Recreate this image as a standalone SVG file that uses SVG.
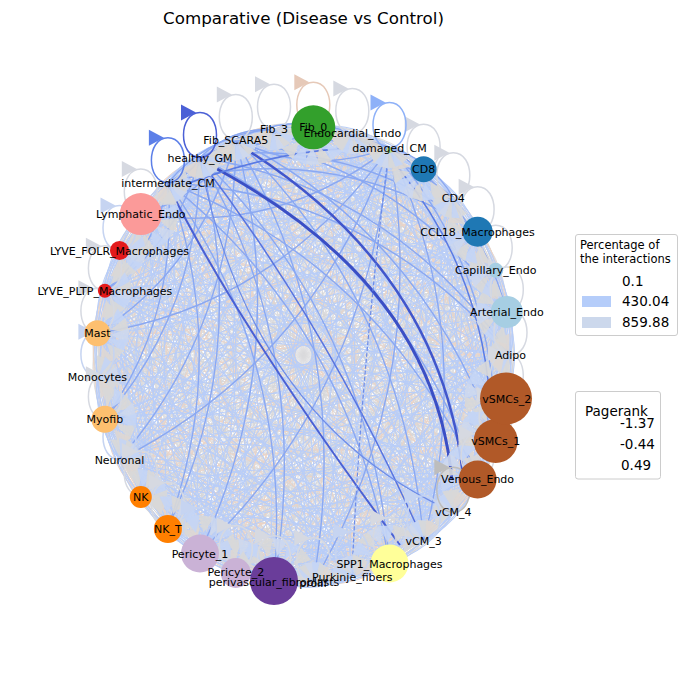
<svg xmlns="http://www.w3.org/2000/svg" width="687" height="690" viewBox="0 0 687 690">
<style>
text{font-family:"DejaVu Sans","Liberation Sans",sans-serif;fill:#000}
.lb{font-size:11px;text-anchor:middle}
.e{fill:none}
.lg{stroke:#d6d9e1;fill:#d6d9e1}
.lb2{stroke:#c6d4f1;fill:#c6d4f1}
.ldk{stroke:#4b60d6;fill:#4b60d6}
.lbl{stroke:#5c7fe8;fill:#5c7fe8}
.llb{stroke:#8eb1f8;fill:#8eb1f8}
.lpe{stroke:#e6c9b8;fill:#e6c9b8}
.lgd{stroke:#bdbdbd;fill:#bdbdbd}
.lt{font-size:11.5px}
.le{font-size:13.5px}
</style>
<defs>
<path id="P" class="e" d="M1 0Q.890-.172 .928-.372M1 0Q.627-.323 .580-.815M1 0Q.324-.309 .048-.999M1 0Q.077-.133-.5-.866M1 0Q-.036.149-.889-.458M1 0Q.021.447-.995.095M1 0Q.231.666-.786.618M1 0Q.525.738-.327.945M1 0Q.812.639 .236.972M1 0Q1 .4 .724.69M1 0Q1.029.098 .982.189"/>
<path id="Q" class="e" d="M1 0Q.813-.239 .841-.541M1 0Q.526-.338 .415-.91M1 0Q.231-.266-.142-.99M1 0Q.021-.047-.655-.756M1 0Q-.036.251-.959-.282M1 0Q.077.533-.959.282M1 0Q.324.709-.655.756M1 0Q.627.723-.142.99M1 0Q.89.572 .415.91M1 0Q1.029.302 .841.541"/>
<path id="R" class="e" d="M1 0Q.953-.091 .982-.189M1 0Q.724-.29 .724-.69M1 0Q.424-.333 .236-.972M1 0Q.147-.207-.327-.945M1 0Q-.017.048-.786-.618M1 0Q-.017.352-.995-.095M1 0Q.147.607-.889.458M1 0Q.423.733-.5.866M1 0Q.724.69 .048.999M1 0Q.953.491 .58.815M1 0Q1.039.2 .928.372"/>
<path id="S" class="e" d="M1 0Q.867-.254 .841-.541M1 0Q.709-.365 .580-.815M1 0Q.521-.409 .236-.972M1 0Q.330-.381-.142-.990M1 0Q.163-.283-.5-.866M1 0Q.045-.130-.786-.618M1 0Q-.008.055-.959-.282M1 0Q.012.247-.995.095M1 0Q.101.418-.889.458M1 0Q.248.543-.655.756M1 0Q.431.605-.327.945M1 0Q.624.595 .048.999M1 0Q.799.513 .415.910M1 0Q.931.373 .724.690M1 0Q1.001.193 .928.372"/>
<path id="T" class="e" d="M1 0Q-.002.048-.995-.095M1 0Q-.007.152-.995-.095M1 0L-.959-.282"/>
<polygon id="t" points="0,0 17,-8 17,8"/>
<g id="f3" fill-opacity="0.9">
<use href="#t" transform="rotate(-65) translate(3)" fill="#d8d8d8"/>
<use href="#t" transform="rotate(-42) translate(3)" fill="#c4d5f5"/>
<use href="#t" transform="rotate(-20) translate(3)" fill="#d8d8d8"/>
<use href="#t" transform="rotate(0) translate(3)" fill="#cdd8ee"/>
<use href="#t" transform="rotate(20) translate(3)" fill="#c4d5f5"/>
<use href="#t" transform="rotate(42) translate(3)" fill="#d8d8d8"/>
<use href="#t" transform="rotate(65) translate(3)" fill="#ded7d3"/>
</g>
<g id="f9" fill-opacity="0.9">
<use href="#t" transform="rotate(-65) translate(9)" fill="#d8d8d8"/>
<use href="#t" transform="rotate(-42) translate(9)" fill="#c4d5f5"/>
<use href="#t" transform="rotate(-20) translate(9)" fill="#d8d8d8"/>
<use href="#t" transform="rotate(0) translate(9)" fill="#cdd8ee"/>
<use href="#t" transform="rotate(20) translate(9)" fill="#c4d5f5"/>
<use href="#t" transform="rotate(42) translate(9)" fill="#d8d8d8"/>
<use href="#t" transform="rotate(65) translate(9)" fill="#ded7d3"/>
</g>
<g id="f14" fill-opacity="0.9">
<use href="#t" transform="rotate(-65) translate(14)" fill="#d8d8d8"/>
<use href="#t" transform="rotate(-42) translate(14)" fill="#c4d5f5"/>
<use href="#t" transform="rotate(-20) translate(14)" fill="#d8d8d8"/>
<use href="#t" transform="rotate(0) translate(14)" fill="#cdd8ee"/>
<use href="#t" transform="rotate(20) translate(14)" fill="#c4d5f5"/>
<use href="#t" transform="rotate(42) translate(14)" fill="#d8d8d8"/>
<use href="#t" transform="rotate(65) translate(14)" fill="#ded7d3"/>
</g>
<g id="f20" fill-opacity="0.9">
<use href="#t" transform="rotate(-65) translate(20)" fill="#d8d8d8"/>
<use href="#t" transform="rotate(-42) translate(20)" fill="#c4d5f5"/>
<use href="#t" transform="rotate(-20) translate(20)" fill="#d8d8d8"/>
<use href="#t" transform="rotate(0) translate(20)" fill="#cdd8ee"/>
<use href="#t" transform="rotate(20) translate(20)" fill="#c4d5f5"/>
<use href="#t" transform="rotate(42) translate(20)" fill="#d8d8d8"/>
<use href="#t" transform="rotate(65) translate(20)" fill="#ded7d3"/>
</g>
<g id="f25" fill-opacity="0.9">
<use href="#t" transform="rotate(-65) translate(25)" fill="#d8d8d8"/>
<use href="#t" transform="rotate(-42) translate(25)" fill="#c4d5f5"/>
<use href="#t" transform="rotate(-20) translate(25)" fill="#d8d8d8"/>
<use href="#t" transform="rotate(0) translate(25)" fill="#cdd8ee"/>
<use href="#t" transform="rotate(20) translate(25)" fill="#c4d5f5"/>
<use href="#t" transform="rotate(42) translate(25)" fill="#d8d8d8"/>
<use href="#t" transform="rotate(65) translate(25)" fill="#ded7d3"/>
</g>
<g id="lp" stroke-width="1.5"><path d="M0,-45C22,-45 22,0 0,0C-22,0 -22,-45 0,-45" fill="none"/><polygon points="-4,-45 -19,-53 -19,-37" stroke="none"/></g>
</defs>
<rect width="687" height="690" fill="#fff"/>
<text x="303.5" y="24" font-size="16.7" text-anchor="middle">Comparative (Disease vs Control)</text>
<g id="connectors">
<g transform="translate(303.5,355) scale(207,228)">
<g stroke="#dadadc" stroke-width=".003">
<use href="#S"/><use href="#T"/>
<use href="#S" transform="rotate(-10.909)"/><use href="#T" transform="rotate(-10.909)"/>
<use href="#S" transform="rotate(-21.818)"/><use href="#T" transform="rotate(-21.818)"/>
<use href="#S" transform="rotate(-32.727)"/><use href="#T" transform="rotate(-32.727)"/>
<use href="#S" transform="rotate(-43.636)"/><use href="#T" transform="rotate(-43.636)"/>
<use href="#S" transform="rotate(-54.545)"/><use href="#T" transform="rotate(-54.545)"/>
<use href="#S" transform="rotate(-65.455)"/><use href="#T" transform="rotate(-65.455)"/>
<use href="#S" transform="rotate(-76.364)"/><use href="#T" transform="rotate(-76.364)"/>
<use href="#S" transform="rotate(-87.273)"/><use href="#T" transform="rotate(-87.273)"/>
<use href="#S" transform="rotate(-98.182)"/><use href="#T" transform="rotate(-98.182)"/>
<use href="#S" transform="rotate(-109.091)"/><use href="#T" transform="rotate(-109.091)"/>
<use href="#S" transform="rotate(-120)"/><use href="#T" transform="rotate(-120)"/>
<use href="#S" transform="rotate(-130.909)"/><use href="#T" transform="rotate(-130.909)"/>
<use href="#S" transform="rotate(-141.818)"/><use href="#T" transform="rotate(-141.818)"/>
<use href="#S" transform="rotate(-152.727)"/><use href="#T" transform="rotate(-152.727)"/>
<use href="#S" transform="rotate(-163.636)"/><use href="#T" transform="rotate(-163.636)"/>
<use href="#S" transform="rotate(-174.545)"/><use href="#T" transform="rotate(-174.545)"/>
<use href="#S" transform="rotate(-185.455)"/><use href="#T" transform="rotate(-185.455)"/>
<use href="#S" transform="rotate(-196.364)"/><use href="#T" transform="rotate(-196.364)"/>
<use href="#S" transform="rotate(-207.273)"/><use href="#T" transform="rotate(-207.273)"/>
<use href="#S" transform="rotate(-218.182)"/><use href="#T" transform="rotate(-218.182)"/>
<use href="#S" transform="rotate(-229.091)"/><use href="#T" transform="rotate(-229.091)"/>
<use href="#S" transform="rotate(-240)"/><use href="#T" transform="rotate(-240)"/>
<use href="#S" transform="rotate(-250.909)"/><use href="#T" transform="rotate(-250.909)"/>
<use href="#S" transform="rotate(-261.818)"/><use href="#T" transform="rotate(-261.818)"/>
<use href="#S" transform="rotate(-272.727)"/><use href="#T" transform="rotate(-272.727)"/>
<use href="#S" transform="rotate(-283.636)"/><use href="#T" transform="rotate(-283.636)"/>
<use href="#S" transform="rotate(-294.545)"/><use href="#T" transform="rotate(-294.545)"/>
<use href="#S" transform="rotate(-305.455)"/><use href="#T" transform="rotate(-305.455)"/>
<use href="#S" transform="rotate(-316.364)"/><use href="#T" transform="rotate(-316.364)"/>
<use href="#S" transform="rotate(-327.273)"/><use href="#T" transform="rotate(-327.273)"/>
<use href="#S" transform="rotate(-338.182)"/><use href="#T" transform="rotate(-338.182)"/>
<use href="#S" transform="rotate(-349.091)"/><use href="#T" transform="rotate(-349.091)"/>
</g>
<g stroke="#d6d6d8" stroke-width=".0037">
<use href="#P"/><use href="#R"/>
<use href="#Q" transform="rotate(-10.909)"/>
<use href="#Q" transform="rotate(-21.818)"/>
<use href="#P" transform="rotate(-32.727)"/><use href="#R" transform="rotate(-32.727)"/>
<use href="#R" transform="rotate(-43.636)"/>
<use href="#Q" transform="rotate(-54.545)"/>
<use href="#P" transform="rotate(-65.455)"/>
<use href="#P" transform="rotate(-76.364)"/><use href="#R" transform="rotate(-76.364)"/>
<use href="#Q" transform="rotate(-87.273)"/>
<use href="#Q" transform="rotate(-98.182)"/>
<use href="#P" transform="rotate(-109.091)"/><use href="#R" transform="rotate(-109.091)"/>
<use href="#R" transform="rotate(-120)"/>
<use href="#Q" transform="rotate(-130.909)"/>
<use href="#P" transform="rotate(-141.818)"/>
<use href="#P" transform="rotate(-152.727)"/><use href="#R" transform="rotate(-152.727)"/>
<use href="#Q" transform="rotate(-163.636)"/>
<use href="#Q" transform="rotate(-174.545)"/>
<use href="#P" transform="rotate(-185.455)"/><use href="#R" transform="rotate(-185.455)"/>
<use href="#R" transform="rotate(-196.364)"/>
<use href="#Q" transform="rotate(-207.273)"/>
<use href="#P" transform="rotate(-218.182)"/>
<use href="#P" transform="rotate(-229.091)"/><use href="#R" transform="rotate(-229.091)"/>
<use href="#Q" transform="rotate(-240)"/>
<use href="#Q" transform="rotate(-250.909)"/>
<use href="#P" transform="rotate(-261.818)"/><use href="#R" transform="rotate(-261.818)"/>
<use href="#R" transform="rotate(-272.727)"/>
<use href="#Q" transform="rotate(-283.636)"/>
<use href="#P" transform="rotate(-294.545)"/>
<use href="#P" transform="rotate(-305.455)"/><use href="#R" transform="rotate(-305.455)"/>
<use href="#Q" transform="rotate(-316.364)"/>
<use href="#Q" transform="rotate(-327.273)"/>
<use href="#P" transform="rotate(-338.182)"/><use href="#R" transform="rotate(-338.182)"/>
<use href="#R" transform="rotate(-349.091)"/>
</g>
<g stroke="#ecd3c5" stroke-width=".0042">
<use href="#P" transform="rotate(-21.818)"/>
<use href="#Q" transform="rotate(-43.636)"/>
<use href="#R" transform="rotate(-65.455)"/>
<use href="#P" transform="rotate(-98.182)"/>
<use href="#Q" transform="rotate(-120)"/>
<use href="#R" transform="rotate(-141.818)"/>
<use href="#P" transform="rotate(-174.545)"/>
<use href="#Q" transform="rotate(-196.364)"/>
<use href="#R" transform="rotate(-218.182)"/>
<use href="#P" transform="rotate(-250.909)"/>
<use href="#Q" transform="rotate(-272.727)"/>
<use href="#R" transform="rotate(-294.545)"/>
<use href="#P" transform="rotate(-327.273)"/>
<use href="#Q" transform="rotate(-349.091)"/>
</g>
<g stroke="#b8cdf8" stroke-width=".0044">
<use href="#Q"/>
<use href="#P" transform="rotate(-10.909)"/><use href="#R" transform="rotate(-10.909)"/>
<use href="#R" transform="rotate(-21.818)"/>
<use href="#Q" transform="rotate(-32.727)"/>
<use href="#P" transform="rotate(-43.636)"/>
<use href="#P" transform="rotate(-54.545)"/><use href="#R" transform="rotate(-54.545)"/>
<use href="#Q" transform="rotate(-65.455)"/>
<use href="#Q" transform="rotate(-76.364)"/>
<use href="#P" transform="rotate(-87.273)"/><use href="#R" transform="rotate(-87.273)"/>
<use href="#R" transform="rotate(-98.182)"/>
<use href="#Q" transform="rotate(-109.091)"/>
<use href="#P" transform="rotate(-120)"/>
<use href="#P" transform="rotate(-130.909)"/><use href="#R" transform="rotate(-130.909)"/>
<use href="#Q" transform="rotate(-141.818)"/>
<use href="#Q" transform="rotate(-152.727)"/>
<use href="#P" transform="rotate(-163.636)"/><use href="#R" transform="rotate(-163.636)"/>
<use href="#R" transform="rotate(-174.545)"/>
<use href="#Q" transform="rotate(-185.455)"/>
<use href="#P" transform="rotate(-196.364)"/>
<use href="#P" transform="rotate(-207.273)"/><use href="#R" transform="rotate(-207.273)"/>
<use href="#Q" transform="rotate(-218.182)"/>
<use href="#Q" transform="rotate(-229.091)"/>
<use href="#P" transform="rotate(-240)"/><use href="#R" transform="rotate(-240)"/>
<use href="#R" transform="rotate(-250.909)"/>
<use href="#Q" transform="rotate(-261.818)"/>
<use href="#P" transform="rotate(-272.727)"/>
<use href="#P" transform="rotate(-283.636)"/><use href="#R" transform="rotate(-283.636)"/>
<use href="#Q" transform="rotate(-294.545)"/>
<use href="#Q" transform="rotate(-305.455)"/>
<use href="#P" transform="rotate(-316.364)"/><use href="#R" transform="rotate(-316.364)"/>
<use href="#R" transform="rotate(-327.273)"/>
<use href="#Q" transform="rotate(-338.182)"/>
<use href="#P" transform="rotate(-349.091)"/>
</g>
<g stroke="#8aa8f2" stroke-width=".0065">
<use href="#R" transform="rotate(-120)"/>
<use href="#Q" transform="rotate(-109.091)"/>
<use href="#Q" transform="rotate(-130.909)"/>
<use href="#R" transform="rotate(-65.455)"/>
</g>
</g>
<g fill="none">
<path d="M200,160Q435,280 452,482" stroke="#3b4fc5" stroke-width="3"/>
<path d="M236,143Q441,268 463,476" stroke="#4156cc" stroke-width="2.5"/>
<path d="M168,185Q240,330 400,545" stroke="#4a60d4" stroke-width="2"/>
<path d="M200,160Q330,330 423,540" stroke="#5874e0" stroke-width="1.5"/>
<path d="M400,170Q480,270 490,400" stroke="#5b7be3" stroke-width="1.5"/>
<path d="M170,190Q300,140 390,150" stroke="#5b7be3" stroke-width="1.8"/>
<path d="M200,160Q250,420 453,512" stroke="#6d8ce8" stroke-width="1.2"/>
<path d="M389,150Q360,380 352,576" stroke="#6d8ce8" stroke-width="1.2" stroke-dasharray="4 2"/>
</g>
<use href="#f3" transform="translate(510.5,355) rotate(180)"/>
<use href="#f14" transform="translate(506.8,311.9) rotate(169.09)"/>
<use href="#f9" transform="translate(495.7,270.3) rotate(158.18)"/>
<use href="#f14" transform="translate(477.6,231.7) rotate(147.27)"/>
<use href="#f3" transform="translate(453.3,197.7) rotate(136.36)"/>
<use href="#f14" transform="translate(423.6,169.3) rotate(125.45)"/>
<use href="#f3" transform="translate(389.5,147.6) rotate(114.55)"/>
<use href="#f3" transform="translate(352.3,133.4) rotate(103.64)"/>
<use href="#f20" transform="translate(313.3,127.3) rotate(92.73)"/>
<use href="#f3" transform="translate(274,129.3) rotate(81.82)"/>
<use href="#f3" transform="translate(235.8,139.5) rotate(70.91)"/>
<use href="#f3" transform="translate(200,157.5) rotate(60)"/>
<use href="#f3" transform="translate(167.9,182.7) rotate(49.09)"/>
<use href="#f20" transform="translate(140.8,214.1) rotate(38.18)"/>
<use href="#f9" transform="translate(119.5,250.5) rotate(27.27)"/>
<use href="#f9" transform="translate(104.9,290.8) rotate(16.36)"/>
<use href="#f14" transform="translate(97.4,333.3) rotate(5.45)"/>
<use href="#f3" transform="translate(97.4,376.7) rotate(-5.45)"/>
<use href="#f14" transform="translate(104.9,419.2) rotate(-16.36)"/>
<use href="#f3" transform="translate(119.5,459.5) rotate(-27.27)"/>
<use href="#f9" transform="translate(140.8,495.9) rotate(-38.18)"/>
<use href="#f14" transform="translate(167.9,527.3) rotate(-49.09)"/>
<use href="#f20" transform="translate(200,552.5) rotate(-60)"/>
<use href="#f14" transform="translate(235.8,570.5) rotate(-70.91)"/>
<use href="#f25" transform="translate(274,580.7) rotate(-81.82)"/>
<use href="#f3" transform="translate(313.3,582.7) rotate(-92.73)"/>
<use href="#f3" transform="translate(352.3,576.6) rotate(-103.64)"/>
<use href="#f20" transform="translate(389.5,562.4) rotate(-114.55)"/>
<use href="#f3" transform="translate(423.6,540.7) rotate(-125.45)"/>
<use href="#f3" transform="translate(453.3,512.3) rotate(-136.36)"/>
<use href="#f20" transform="translate(477.6,478.3) rotate(-147.27)"/>
<use href="#f20" transform="translate(495.7,439.7) rotate(-158.18)"/>
<use href="#f25" transform="translate(506.8,398.1) rotate(-169.09)"/>
<use href="#lp" class="lg" x="510.5" y="355"/>
<use href="#lp" class="lg" x="506.8" y="311.9"/>
<use href="#lp" class="lg" x="495.7" y="270.3"/>
<use href="#lp" class="lg" x="477.6" y="231.7"/>
<use href="#lp" class="lg" x="453.3" y="197.7"/>
<use href="#lp" class="lg" x="423.6" y="169.3"/>
<use href="#lp" class="llb" x="389.5" y="147.6"/>
<use href="#lp" class="lg" x="352.3" y="133.4"/>
<use href="#lp" class="lpe" x="313.3" y="127.3"/>
<use href="#lp" class="lg" x="274" y="129.3"/>
<use href="#lp" class="lg" x="235.8" y="139.5"/>
<use href="#lp" class="ldk" x="200" y="157.5"/>
<use href="#lp" class="lbl" x="167.9" y="182.7"/>
<use href="#lp" class="lg" x="140.8" y="214.1"/>
<use href="#lp" class="lb2" x="119.5" y="250.5"/>
<use href="#lp" class="lg" x="104.9" y="290.8"/>
<use href="#lp" class="lg" x="97.4" y="333.3"/>
<use href="#lp" class="lb2" x="97.4" y="376.7"/>
<use href="#lp" class="lg" x="104.9" y="419.2"/>
<use href="#lp" class="lb2" x="119.5" y="459.5"/>
<use href="#lp" class="lg" x="140.8" y="495.9"/>
<use href="#lp" class="lg" x="167.9" y="527.3"/>
<use href="#lp" class="lb2" x="200" y="552.5"/>
<use href="#lp" class="lg" x="235.8" y="570.5"/>
<use href="#lp" class="lg" x="274" y="580.7"/>
<use href="#lp" class="lg" x="313.3" y="582.7"/>
<use href="#lp" class="lb2" x="352.3" y="576.6"/>
<use href="#lp" class="lg" x="389.5" y="562.4"/>
<use href="#lp" class="lb2" x="423.6" y="540.7"/>
<use href="#lp" class="lgd" x="453.3" y="512.3"/>
<use href="#lp" class="lg" x="477.6" y="478.3"/>
<use href="#lp" class="lg" x="495.7" y="439.7"/>
<use href="#lp" class="lg" x="506.8" y="398.1"/>
</g>
<g id="nodes">
<g id="n-Arterial_Endo"><circle cx="506.8" cy="311.9" r="16" fill="#a6cee3"/></g>
<g id="n-Capillary_Endo"><circle cx="495.7" cy="270.3" r="7.5" fill="#a6cee3"/></g>
<g id="n-CCL18_Macrophages"><circle cx="477.6" cy="231.7" r="15" fill="#1f78b4"/></g>
<g id="n-CD8"><circle cx="423.6" cy="169.3" r="13" fill="#1f78b4"/></g>
<g id="n-damaged_CM"><circle cx="389.5" cy="150" r="3" fill="#b2df8a"/></g>
<g id="n-Fib_0"><circle cx="313.3" cy="127.3" r="22" fill="#33a02c"/></g>
<g id="n-Lymphatic_Endo"><circle cx="140.8" cy="214.1" r="21" fill="#fb9a99"/></g>
<g id="n-LYVE_FOLR_Macrophages"><circle cx="119.5" cy="250.5" r="9.5" fill="#e31a1c"/></g>
<g id="n-LYVE_PLTP_Macrophages"><circle cx="104.9" cy="290.8" r="7" fill="#e31a1c"/></g>
<g id="n-Mast"><circle cx="97.4" cy="333.3" r="13" fill="#fdbf6f"/></g>
<g id="n-Myofib"><circle cx="104.9" cy="419.2" r="13.5" fill="#fdbf6f"/></g>
<g id="n-NK"><circle cx="140.8" cy="497" r="11" fill="#ff7f00"/></g>
<g id="n-NK_T"><circle cx="167.9" cy="529" r="14" fill="#ff7f00"/></g>
<g id="n-Pericyte_1"><circle cx="200" cy="553.5" r="19" fill="#cab2d6"/></g>
<g id="n-Pericyte_2"><circle cx="235.8" cy="573" r="15" fill="#cab2d6"/></g>
<g id="n-perivascular_fibroblasts"><circle cx="274" cy="581" r="24" fill="#6a3d9a"/></g>
<g id="n-SPP1_Macrophages"><circle cx="389.5" cy="563.5" r="19" fill="#ffff99"/></g>
<g id="n-Venous_Endo"><circle cx="477.6" cy="479.5" r="19" fill="#b15928"/></g>
<g id="n-vSMCs_1"><circle cx="495.7" cy="441" r="22" fill="#b15928"/></g>
<g id="n-vSMCs_2"><circle cx="506" cy="398.5" r="26" fill="#b15928"/></g>
</g>
<g id="labels">
<text class="lb" x="510.5" y="359">Adipo</text>
<text class="lb" x="506.8" y="316">Arterial_Endo</text>
<text class="lb" x="495.7" y="274.3">Capillary_Endo</text>
<text class="lb" x="477.6" y="235.7">CCL18_Macrophages</text>
<text class="lb" x="453.3" y="201.7">CD4</text>
<text class="lb" x="423.6" y="173.3">CD8</text>
<text class="lb" x="389.5" y="151.6">damaged_CM</text>
<text class="lb" x="313.3" y="131.3">Fib_0</text>
<text class="lb" x="352.3" y="137.4">Endocardial_Endo</text>
<text class="lb" x="274" y="133.3">Fib_3</text>
<text class="lb" x="235.8" y="143.5">Fib_SCARA5</text>
<text class="lb" x="200" y="161.5">healthy_GM</text>
<text class="lb" x="167.9" y="186.7">intermediate_CM</text>
<text class="lb" x="140.8" y="218.1">Lymphatic_Endo</text>
<text class="lb" x="119.5" y="254.5">LYVE_FOLR_Macrophages</text>
<text class="lb" x="104.9" y="294.8">LYVE_PLTP_Macrophages</text>
<text class="lb" x="97.4" y="337.3">Mast</text>
<text class="lb" x="97.4" y="380.7">Monocytes</text>
<text class="lb" x="104.9" y="423.2">Myofib</text>
<text class="lb" x="119.5" y="463.5">Neuronal</text>
<text class="lb" x="140.8" y="501">NK</text>
<text class="lb" x="167.9" y="533">NK_T</text>
<text class="lb" x="200" y="557.5">Pericyte_1</text>
<text class="lb" x="235.8" y="575.5">Pericyte_2</text>
<text class="lb" x="274" y="585.7">perivascular_fibroblasts</text>
<text class="lb" x="313.3" y="586.7">prolif</text>
<text class="lb" x="352.3" y="580.6">Purkinje_fibers</text>
<text class="lb" x="389.5" y="568">SPP1_Macrophages</text>
<text class="lb" x="423.6" y="544.7">vCM_3</text>
<text class="lb" x="453.3" y="516.3">vCM_4</text>
<text class="lb" x="477.6" y="483.3">Venous_Endo</text>
<text class="lb" x="495.7" y="444.7">vSMCs_1</text>
<text class="lb" x="506.8" y="403.1">vSMCs_2</text>
</g>
<g id="legend-percentage">
<rect x="575.5" y="234.5" width="102" height="101" rx="2.5" fill="#fff" fill-opacity="0.8" stroke="#cccccc"/>
<text class="lt" x="580" y="249">Percentage of</text>
<text class="lt" x="580" y="263.3">the interactions</text>
<text class="le" x="622" y="285.5">0.1</text>
<rect x="582" y="296" width="29" height="11" fill="#b5cdfa"/>
<text class="le" x="622" y="306">430.04</text>
<rect x="582" y="317" width="29" height="11" fill="#ccd8ec"/>
<text class="le" x="622" y="326.7">859.88</text>
</g>
<g id="legend-pagerank">
<rect x="575.5" y="391.5" width="85" height="87.5" rx="2.5" fill="#fff" fill-opacity="0.8" stroke="#cccccc"/>
<text class="le" x="585" y="415.7">Pagerank</text>
<text class="le" x="620" y="428">-1.37</text>
<text class="le" x="620" y="449">-0.44</text>
<text class="le" x="621" y="470">0.49</text>
</g>
</svg>
